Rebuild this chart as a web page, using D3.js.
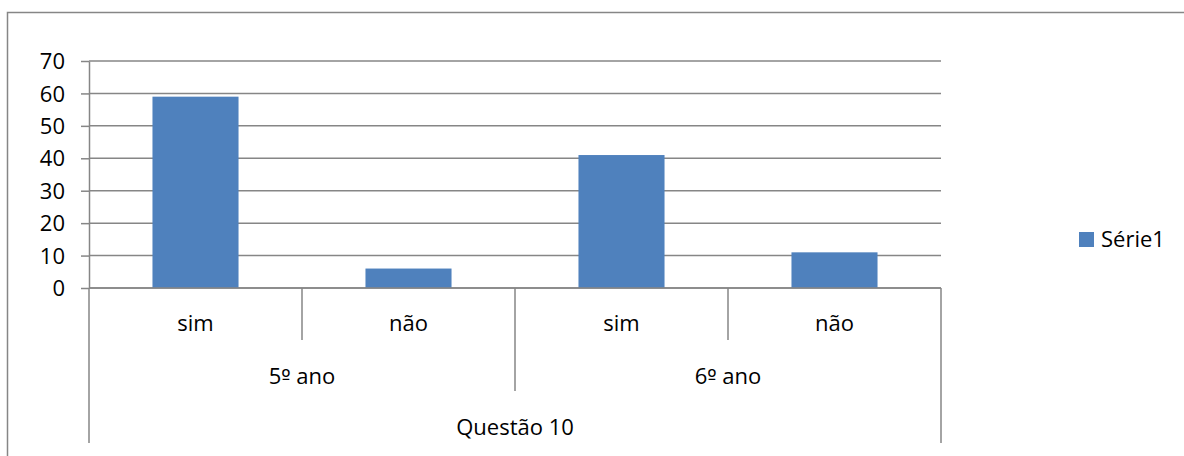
<!DOCTYPE html>
<html><head><meta charset="utf-8">
<script src="https://cdn.jsdelivr.net/npm/d3@7"></script>
<style>
html,body{margin:0;padding:0;background:#fff;}
svg{display:block;}
text{font-family:"Open Sans",sans-serif;fill:#000;}
</style></head>
<body>
<svg id="c" width="1184" height="456"></svg>
<script>
// ---- data ----
const groups = ["5º ano", "6º ano"];
const answers = ["sim", "não"];
const categoryKeys = ["5º ano|sim", "5º ano|não", "6º ano|sim", "6º ano|não"];
const values = [59, 6, 41, 11];
const yTicks = [0, 10, 20, 30, 40, 50, 60, 70];
const outerLabel = "Questão 10";
const seriesName = "Série1";

(function () {
// ---- layout ----
const svg = d3.select("#c");
const pL = 89, pR = 941, pT = 61, pB = 288;
const gray = "#868686";
const barColor = "#4F81BD";
const fs = 22;

// chart border
svg.append("rect").attr("x", 7.5).attr("y", 12.5).attr("width", 1200).attr("height", 500)
  .attr("fill", "none").attr("stroke", gray).attr("stroke-width", 1.5);

const x = d3.scaleBand().domain(categoryKeys).range([pL, pR])
  .paddingInner(0.596).paddingOuter(0.298);
const xCat = d3.scaleBand().domain(categoryKeys).range([pL, pR]);
const xGroup = d3.scaleBand().domain(groups).range([pL, pR]);
const y = d3.scaleLinear().domain([0, 70]).range([pB, pT]);

// gridlines
svg.append("g").selectAll("line").data(yTicks).join("line")
  .attr("x1", pL).attr("x2", pR)
  .attr("y1", d => y(d)).attr("y2", d => y(d))
  .attr("stroke", gray).attr("stroke-width", 1.5);

// y axis
const yAxis = svg.append("g").attr("transform", `translate(${pL},0)`)
  .call(d3.axisLeft(y).tickValues(yTicks).tickSize(8).tickPadding(16).tickSizeOuter(0));
yAxis.select(".domain").attr("stroke", gray).attr("stroke-width", 1.5);
yAxis.selectAll(".tick line").attr("stroke", gray).attr("stroke-width", 1.5);
yAxis.selectAll(".tick text").attr("font-size", fs).attr("font-family", "Open Sans").attr("fill", "#000").attr("dy", "0.35em");

// bars
svg.append("g").selectAll("rect").data(values).join("rect")
  .attr("x", (d, i) => x(categoryKeys[i]))
  .attr("width", x.bandwidth())
  .attr("y", d => y(d))
  .attr("height", d => y(0) - y(d))
  .attr("fill", barColor);

// x axis baseline
svg.append("line").attr("x1", pL).attr("x2", pR).attr("y1", y(0)).attr("y2", y(0))
  .attr("stroke", gray).attr("stroke-width", 1.5);

// multi-level category separators
const sep = svg.append("g").attr("stroke", gray).attr("stroke-width", 1.5);
[pL, pR].forEach(px => sep.append("line").attr("x1", px).attr("x2", px).attr("y1", y(0)).attr("y2", 443));
groups.slice(1).forEach(g => {
  const px = xGroup(g);
  sep.append("line").attr("x1", px).attr("x2", px).attr("y1", y(0)).attr("y2", 391);
});
categoryKeys.forEach((k, i) => {
  if (i % answers.length !== 0) {
    const px = xCat(k);
    sep.append("line").attr("x1", px).attr("x2", px).attr("y1", y(0)).attr("y2", 340);
  }
});

// labels
svg.append("g").selectAll("text").data(categoryKeys).join("text")
  .attr("x", k => xCat(k) + xCat.bandwidth() / 2).attr("y", 331)
  .attr("text-anchor", "middle").attr("font-size", fs)
  .text(k => k.split("|")[1]);
const gl = svg.append("g").selectAll("text").data(groups).join("text")
  .attr("x", g => xGroup(g) + xGroup.bandwidth() / 2).attr("y", 384)
  .attr("text-anchor", "middle").attr("font-size", fs);
gl.each(function (g) {
  const t = d3.select(this);
  const parts = g.split("º");
  t.append("tspan").text(parts[0]);
  t.append("tspan").attr("font-family", "DejaVu Sans").attr("font-size", fs * 0.9).text("º");
  t.append("tspan").text(parts[1]);
});
svg.append("text").attr("x", (pL + pR) / 2).attr("y", 435)
  .attr("text-anchor", "middle").attr("font-size", fs).text(outerLabel);

// legend
svg.append("rect").attr("x", 1079).attr("y", 232).attr("width", 15).attr("height", 15).attr("fill", barColor);
svg.append("text").attr("x", 1101).attr("y", 247).attr("font-size", fs).text(seriesName);
})();
</script>
</body></html>
